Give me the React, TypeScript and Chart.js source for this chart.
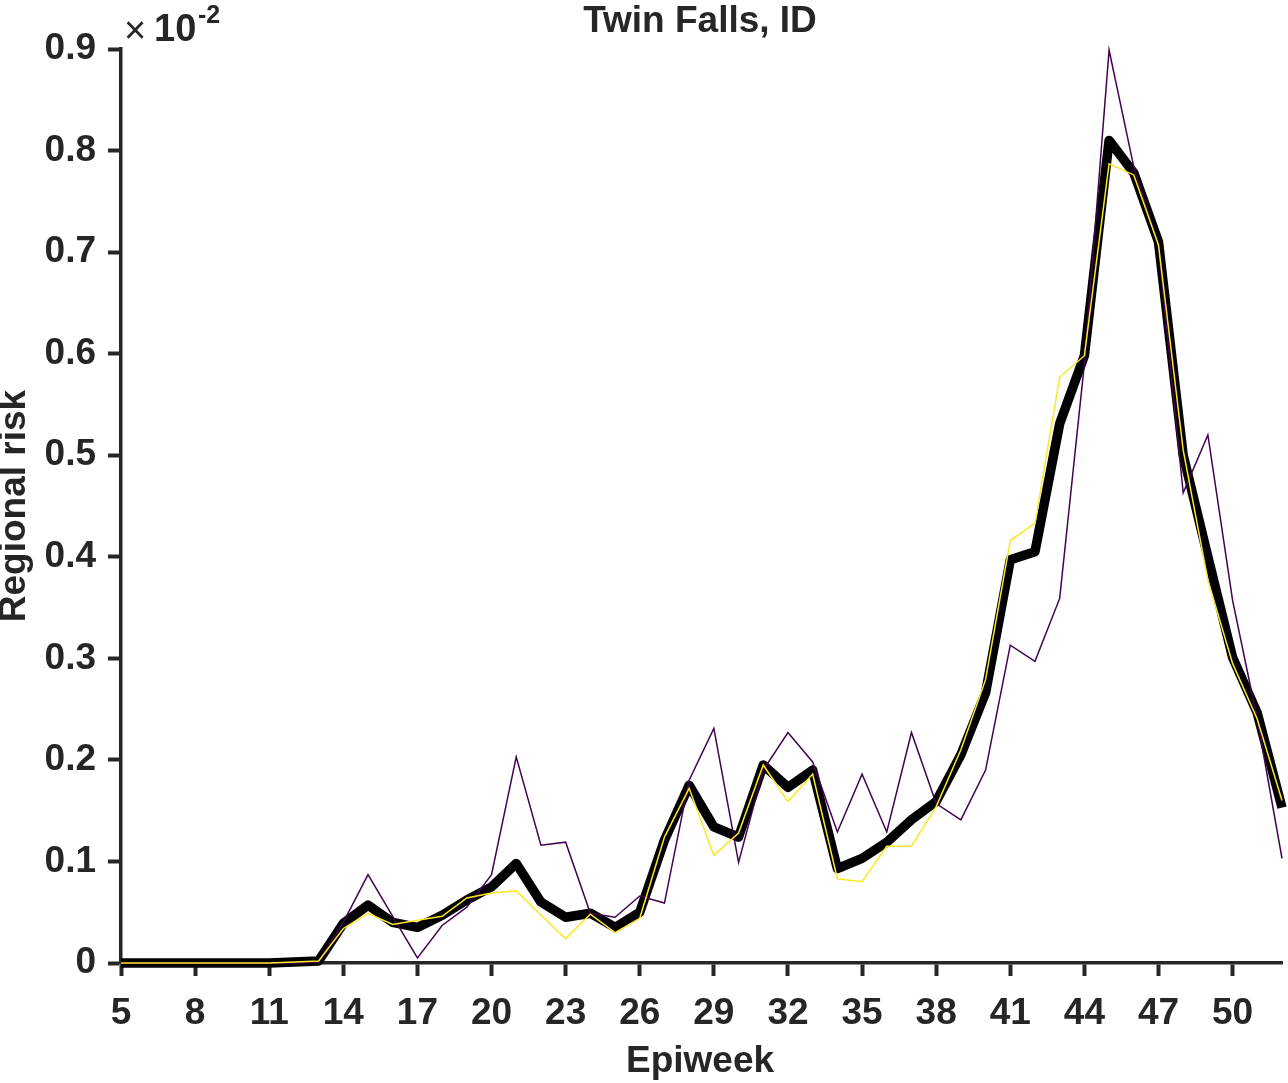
import React, { useEffect, useRef } from "react";
import { Chart, registerables } from "chart.js";

Chart.register(...registerables);

const weeks = [5, 6, 7, 8, 9, 10, 11, 12, 13, 14, 15, 16, 17, 18, 19, 20, 21, 22, 23, 24, 25, 26, 27, 28, 29, 30, 31, 32, 33, 34, 35, 36, 37, 38, 39, 40, 41, 42, 43, 44, 45, 46, 47, 48, 49, 50, 51, 52];

const meanRisk = [0, 0, 0, 0, 0, 0, 0, 0.001, 0.002, 0.039, 0.057, 0.040, 0.035, 0.047, 0.062, 0.075, 0.098, 0.060, 0.045, 0.049, 0.035, 0.050, 0.121, 0.175, 0.134, 0.124, 0.195, 0.173, 0.190, 0.093, 0.103, 0.119, 0.141, 0.159, 0.205, 0.266, 0.397, 0.405, 0.531, 0.598, 0.810, 0.778, 0.710, 0.500, 0.400, 0.301, 0.246, 0.153];

const yellowRisk = [0, 0, 0, 0, 0, 0, 0, 0.001, 0.002, 0.034, 0.049, 0.038, 0.042, 0.046, 0.064, 0.069, 0.071, 0.047, 0.024, 0.048, 0.030, 0.044, 0.124, 0.172, 0.106, 0.128, 0.195, 0.159, 0.186, 0.083, 0.080, 0.115, 0.115, 0.154, 0.210, 0.279, 0.416, 0.433, 0.577, 0.598, 0.787, 0.776, 0.707, 0.505, 0.377, 0.295, 0.240, 0.160];

const purpleRisk = [0, 0, 0, 0, 0, 0, 0, 0, 0.001, 0.040, 0.087, 0.046, 0.005, 0.037, 0.055, 0.087, 0.203, 0.116, 0.119, 0.049, 0.045, 0.066, 0.059, 0.180, 0.231, 0.099, 0.190, 0.227, 0.198, 0.129, 0.186, 0.129, 0.227, 0.157, 0.141, 0.190, 0.313, 0.297, 0.359, 0.590, 0.899, 0.784, 0.705, 0.463, 0.520, 0.357, 0.240, 0.103];

const xTicks = [5, 8, 11, 14, 17, 20, 23, 26, 29, 32, 35, 38, 41, 44, 47, 50];
const yTicks = [0, 0.1, 0.2, 0.3, 0.4, 0.5, 0.6, 0.7, 0.8, 0.9];

const TITLE = "Twin Falls, ID";
const X_LABEL = "Epiweek";
const Y_LABEL = "Regional risk";

const TEXT = "#262626";
const FONT = "'Liberation Sans', Arial, Helvetica, sans-serif";

const toPoints = (vals: number[]) => weeks.map((w, i) => ({ x: w, y: vals[i] }));

const textPlugin = {
  id: "customText",
  afterDraw(chart: any) {
    const ctx = chart.ctx;
    const area = chart.chartArea;
    const cx = (area.left + area.right) / 2;
    ctx.save();
    ctx.fillStyle = TEXT;
    ctx.textAlign = "center";
    ctx.textBaseline = "middle";
    ctx.font = `bold 37px ${FONT}`;
    ctx.fillText(TITLE, 700, 22);
    ctx.fillText(X_LABEL, 700, 1062);
    ctx.save();
    ctx.translate(15, 506);
    ctx.rotate(-Math.PI / 2);
    ctx.fillText(Y_LABEL, 0, 0);
    ctx.restore();
    // exponent label
    ctx.textAlign = "left";
    ctx.textBaseline = "alphabetic";
    ctx.font = `38px ${FONT}`;
    ctx.fillText("\u00d7", 124, 43);
    ctx.font = `bold 38px ${FONT}`;
    ctx.fillText("10", 154, 41);
    ctx.font = `bold 25px ${FONT}`;
    ctx.fillText("-2", 198, 23);
    ctx.restore();
  },
};

export default function App() {
  const ref = useRef<HTMLCanvasElement | null>(null);
  useEffect(() => {
    if (!ref.current) return;
    const tickFont = { family: FONT, size: 37, weight: "bold" as const };
    const chart = new Chart(ref.current, {
      type: "line",
      data: {
        datasets: [
          {
            data: toPoints(meanRisk),
            borderColor: "#000000",
            borderWidth: 9.5,
            pointRadius: 0,
            tension: 0,
            order: 3,
            clip: false as any,
            borderJoinStyle: "round",
          },
          {
            data: toPoints(purpleRisk),
            borderColor: "#440154",
            borderWidth: 1.5,
            pointRadius: 0,
            tension: 0,
            order: 2,
            clip: false as any,
          },
          {
            data: toPoints(yellowRisk),
            borderColor: "#FDE725",
            borderWidth: 1.5,
            pointRadius: 0,
            tension: 0,
            order: 1,
            clip: false as any,
          },
        ],
      },
      options: {
        animation: false,
        responsive: false,
        devicePixelRatio: 1,
        layout: { padding: { left: 0, right: 6, top: 49, bottom: 0 } },
        plugins: {
          legend: { display: false },
          title: { display: false },
          tooltip: { enabled: false },
        },
        scales: {
          x: {
            type: "linear",
            min: 5,
            max: 52,
            afterBuildTicks: (s: any) => {
              s.ticks = xTicks.map((v) => ({ value: v }));
            },
            afterFit: (s: any) => {
              s.height = 120;
            },
            border: { display: true, color: TEXT, width: 3.5 },
            grid: {
              drawOnChartArea: false,
              drawTicks: true,
              tickLength: 13,
              tickWidth: 4,
              tickColor: TEXT,
            },
            ticks: {
              autoSkip: false,
              maxRotation: 0,
              color: TEXT,
              font: tickFont,
              padding: 16,
              callback: (v: any) => String(v),
            },
          },
          y: {
            type: "linear",
            min: 0,
            max: 0.9,
            afterBuildTicks: (s: any) => {
              s.ticks = yTicks.map((v) => ({ value: v }));
            },
            afterFit: (s: any) => {
              s.width = 121;
            },
            border: { display: true, color: TEXT, width: 3.5 },
            grid: {
              drawOnChartArea: false,
              drawTicks: true,
              tickLength: 13,
              tickWidth: 4,
              tickColor: TEXT,
            },
            ticks: {
              autoSkip: false,
              color: TEXT,
              font: tickFont,
              padding: 12,
              callback: (v: any) => (v === 0 ? "0" : Number(v).toFixed(1)),
            },
          },
        },
      },
      plugins: [textPlugin],
    });
    return () => chart.destroy();
  }, []);
  return (
    <div style={{ position: "absolute", left: 0, top: 0, width: 1288, height: 1083, background: "#ffffff" }}>
      <canvas ref={ref} width={1288} height={1083} style={{ width: 1288, height: 1083, display: "block" }} />
    </div>
  );
}
